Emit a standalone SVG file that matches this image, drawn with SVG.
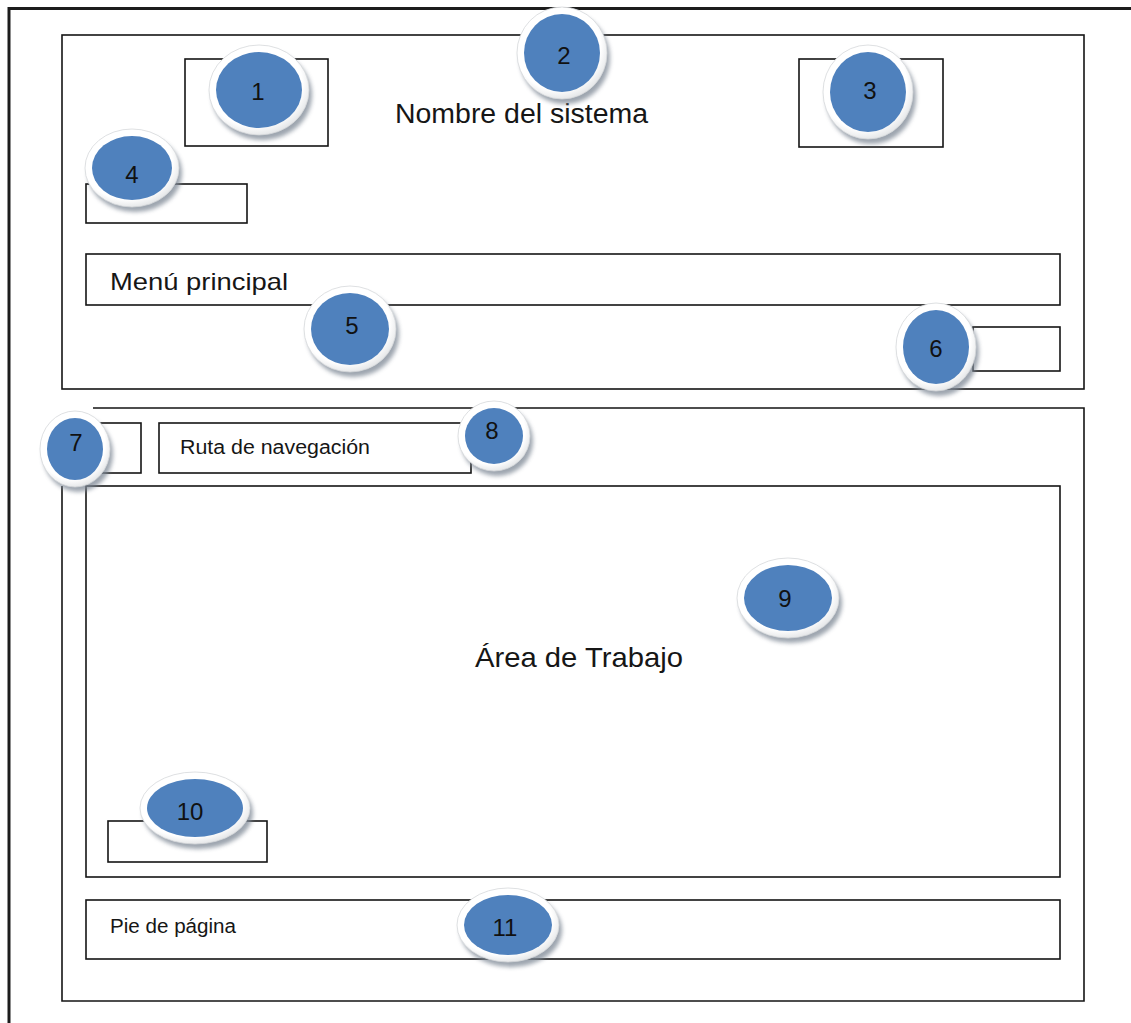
<svg xmlns="http://www.w3.org/2000/svg" width="1131" height="1023" viewBox="0 0 1131 1023">
  <defs>
    <radialGradient id="ringFill" cx="0.45" cy="0.42" r="0.6">
      <stop offset="0.8" stop-color="#ffffff"/>
      <stop offset="1" stop-color="#e2e4e6"/>
    </radialGradient>
    <filter id="soft" x="-30%" y="-30%" width="160%" height="160%">
      <feGaussianBlur stdDeviation="2"/>
    </filter>
  </defs>
  <style>
    .frame { fill: none; stroke: #1c1c1c; stroke-width: 3; }
    .box { fill: none; stroke: #151515; stroke-width: 1.6; }
    .label { font-family: "Liberation Sans", Arial, sans-serif; fill: #161616; }
    .shadow { fill: #7d8794; opacity: 0.75; filter: url(#soft); }
    .ring { fill: url(#ringFill); stroke: #d6d8db; stroke-width: 0.8; }
    .badge { fill: #4f81bd; }
    .num { font-family: "Liberation Sans", Arial, sans-serif; font-size: 24px; fill: #111; text-anchor: middle; }
  </style>

  <rect width="1131" height="1023" fill="#ffffff"/>

  <!-- page frame -->
  <path class="frame" d="M9,1023 V8.5 H1131"/>

  <!-- layout boxes -->
  <g id="connectors">
    <!-- header -->
    <rect class="box" x="62" y="35" width="1022" height="354"/>
    <rect class="box" x="185" y="59" width="143" height="87"/>
    <rect class="box" x="799" y="59" width="144" height="88"/>
    <rect class="box" x="86" y="184" width="161" height="39"/>
    <rect class="box" x="86" y="254" width="974" height="51"/>
    <rect class="box" x="973" y="327" width="87" height="44"/>
    <!-- body -->
    <path class="box" d="M93,408 H1084 V1001 H62 V486"/>
    <rect class="box" x="88" y="423" width="53" height="50"/>
    <rect class="box" x="159" y="423" width="312" height="50"/>
    <rect class="box" x="86" y="486" width="974" height="391"/>
    <rect class="box" x="108" y="821" width="159" height="41"/>
    <rect class="box" x="86" y="900" width="974" height="59"/>
  </g>

  <!-- section captions -->
  <g id="captions">
    <text class="label" x="395" y="123" font-size="27" textLength="253" lengthAdjust="spacingAndGlyphs">Nombre del sistema</text>
    <text class="label" x="110" y="290" font-size="24" textLength="178" lengthAdjust="spacingAndGlyphs">Menú principal</text>
    <text class="label" x="180" y="454" font-size="20" textLength="190" lengthAdjust="spacingAndGlyphs">Ruta de navegación</text>
    <text class="label" x="475" y="667" font-size="28" textLength="208" lengthAdjust="spacingAndGlyphs">Área de Trabajo</text>
    <text class="label" x="110" y="933" font-size="20" textLength="126" lengthAdjust="spacingAndGlyphs">Pie de página</text>
  </g>

  <!-- numbered markers -->
  <g id="n1">
    <ellipse class="shadow" cx="262" cy="95" rx="50" ry="45"/>
    <ellipse class="ring" cx="259" cy="90" rx="50" ry="45"/>
    <ellipse class="badge" cx="259" cy="90" rx="43" ry="38"/>
    <text class="num" x="258" y="100">1</text>
  </g>
  <g id="n2">
    <ellipse class="shadow" cx="565" cy="58" rx="45" ry="46"/>
    <ellipse class="ring" cx="562" cy="53" rx="45" ry="46"/>
    <ellipse class="badge" cx="562" cy="53" rx="38" ry="39"/>
    <text class="num" x="564" y="64">2</text>
  </g>
  <g id="n3">
    <ellipse class="shadow" cx="871" cy="97" rx="45" ry="47"/>
    <ellipse class="ring" cx="868" cy="92" rx="45" ry="47"/>
    <ellipse class="badge" cx="868" cy="92" rx="38" ry="40"/>
    <text class="num" x="870" y="99">3</text>
  </g>
  <g id="n4">
    <ellipse class="shadow" cx="135" cy="173" rx="47" ry="39"/>
    <ellipse class="ring" cx="132" cy="168" rx="47" ry="39"/>
    <ellipse class="badge" cx="132" cy="168" rx="40" ry="32"/>
    <text class="num" x="132" y="183">4</text>
  </g>
  <g id="n5">
    <ellipse class="shadow" cx="353" cy="334" rx="46" ry="43"/>
    <ellipse class="ring" cx="350" cy="329" rx="46" ry="43"/>
    <ellipse class="badge" cx="350" cy="329" rx="39" ry="36"/>
    <text class="num" x="352" y="334">5</text>
  </g>
  <g id="n6">
    <ellipse class="shadow" cx="939" cy="352" rx="40" ry="44"/>
    <ellipse class="ring" cx="936" cy="347" rx="40" ry="44"/>
    <ellipse class="badge" cx="936" cy="347" rx="33" ry="37"/>
    <text class="num" x="936" y="357">6</text>
  </g>
  <g id="n7">
    <ellipse class="shadow" cx="78" cy="454" rx="35" ry="38"/>
    <ellipse class="ring" cx="75" cy="449" rx="35" ry="38"/>
    <ellipse class="badge" cx="75" cy="449" rx="28" ry="31"/>
    <text class="num" x="76" y="451">7</text>
  </g>
  <g id="n8">
    <ellipse class="shadow" cx="497" cy="441" rx="36" ry="35"/>
    <ellipse class="ring" cx="494" cy="436" rx="36" ry="35"/>
    <ellipse class="badge" cx="494" cy="436" rx="29" ry="28"/>
    <text class="num" x="492" y="439">8</text>
  </g>
  <g id="n9">
    <ellipse class="shadow" cx="791" cy="603" rx="51" ry="40"/>
    <ellipse class="ring" cx="788" cy="598" rx="51" ry="40"/>
    <ellipse class="badge" cx="788" cy="598" rx="44" ry="33"/>
    <text class="num" x="785" y="607">9</text>
  </g>
  <g id="n10">
    <ellipse class="shadow" cx="198" cy="813" rx="55" ry="36"/>
    <ellipse class="ring" cx="195" cy="808" rx="55" ry="36"/>
    <ellipse class="badge" cx="195" cy="808" rx="48" ry="29"/>
    <text class="num" x="190" y="820">10</text>
  </g>
  <g id="n11">
    <ellipse class="shadow" cx="511" cy="930" rx="51" ry="37"/>
    <ellipse class="ring" cx="508" cy="925" rx="51" ry="37"/>
    <ellipse class="badge" cx="508" cy="925" rx="44" ry="30"/>
    <text class="num" x="505" y="936">11</text>
  </g>
</svg>
